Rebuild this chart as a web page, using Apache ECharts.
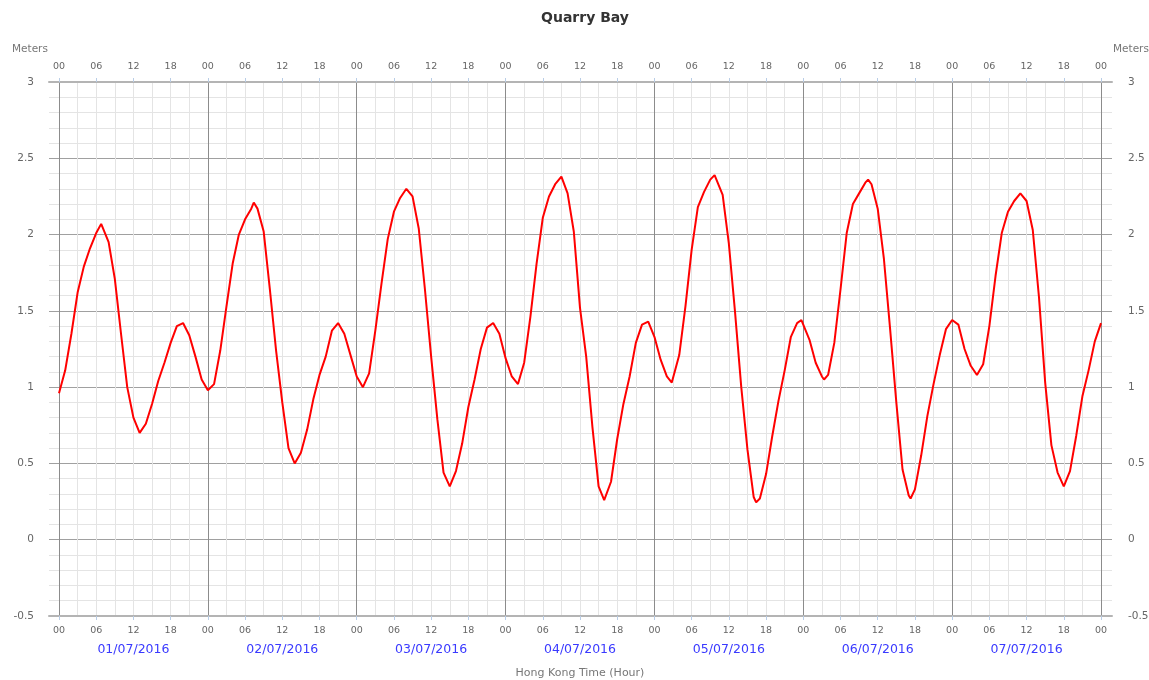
<!DOCTYPE html>
<html><head><meta charset="utf-8">
<script src="https://cdn.jsdelivr.net/npm/echarts@6/dist/echarts.min.js"></script>
<style>html,body{margin:0;padding:0;background:#fff}#c{width:1149px;height:680px}</style>
</head><body><div id="c"></div><script>
// Hourly predicted tide heights (m), hour 0 = 00:00 01/07/2016
const hourlyHeights = [
0.96,1.11,1.35,1.62,1.79,1.91,2.01,2.05,1.95,1.71,
1.35,1.00,0.80,0.70,0.76,0.89,1.04,1.16,1.29,1.40,
1.42,1.34,1.20,1.05,0.98,1.02,1.24,1.53,1.81,2.00,
2.10,2.17,2.17,2.02,1.64,1.24,0.90,0.60,0.50,0.57,
0.72,0.92,1.08,1.20,1.37,1.42,1.35,1.21,1.07,1.00,
1.09,1.37,1.68,1.97,2.15,2.24,2.30,2.25,2.04,1.64,
1.20,0.79,0.44,0.35,0.45,0.63,0.87,1.05,1.25,1.39,
1.42,1.35,1.19,1.07,1.02,1.16,1.46,1.81,2.11,2.25,
2.33,2.38,2.27,2.02,1.52,1.20,0.74,0.35,0.27,0.38,
0.66,0.89,1.07,1.29,1.41,1.43,1.33,1.18,1.07,1.04,
1.21,1.53,1.90,2.18,2.28,2.36,2.38,2.26,1.94,1.49,
1.00,0.59,0.28,0.27,0.43,0.68,0.91,1.11,1.33,1.42,
1.43,1.31,1.16,1.07,1.08,1.29,1.64,2.01,2.20,2.27,
2.34,2.33,2.17,1.84,1.38,0.90,0.46,0.29,0.33,0.55,
0.81,1.02,1.21,1.38,1.44,1.41,1.25,1.14,1.08,1.15,
1.40,1.73,2.01,2.15,2.22,2.27,2.22,2.03,1.59,1.03,
0.62,0.44,0.35,0.45,0.68,0.94,1.11,1.30,1.42];
// High / low water times (hours from start) and heights (m)
const extremeHours   = [6.8, 31.4, 87.9, 98.8, 105.7, 112.4, 119.7, 123.35, 130.45, 137.3, 144.3, 148.2];
const extremeHeights = [2.07, 2.21, 0.26, 1.03, 2.39, 0.245, 1.44, 1.05, 2.36, 0.27, 1.45, 1.07];
const dateLabels = ['01/07/2016','02/07/2016','03/07/2016','04/07/2016','05/07/2016','06/07/2016','07/07/2016'];
const hourLabels = ['00','06','12','18'];

const points = hourlyHeights.map((v,i)=>[i,v]);
extremeHours.forEach((h,i)=>points.push([h, extremeHeights[i]]));
points.sort((a,b)=>a[0]-b[0]);

const FONT = 'DejaVu Sans';
const hourFmt = v => hourLabels[Math.round(v % 24) / 6];
const chart = echarts.init(document.getElementById('c'));
chart.setOption({
  animation:false,
  textStyle:{fontFamily:FONT},
  title:{text:'Quarry Bay', left:580, textAlign:'center', top:6,
    textStyle:{fontFamily:FONT, fontSize:14, fontWeight:'bold', color:'#333'}},
  graphic:[
    {type:'text', left:12, top:44, style:{text:'Meters', fill:'#777', fontSize:10.5, fontFamily:FONT}},
    {type:'text', left:1113, top:44, style:{text:'Meters', fill:'#777', fontSize:10.5, fontFamily:FONT}}
  ],
  grid:[
    {left:59, right:48, top:82, bottom:64, containLabel:false, outerBoundsMode:'none'},
    {left:49, right:37, top:82, bottom:64, containLabel:false, outerBoundsMode:'none'}
  ],
  xAxis:[
    {gridIndex:0, type:'value', min:0, max:168, interval:24, position:'bottom',
      axisLine:{show:false, onZero:false}, axisTick:{show:false}, axisLabel:{show:false},
      splitLine:{show:true, lineStyle:{color:'#8c8c8c', width:1}},
      minorTick:{show:false, splitNumber:8},
      minorSplitLine:{show:true, lineStyle:{color:'#e4e4e4', width:1}}},
    {gridIndex:0, type:'value', min:0, max:168, interval:6, position:'bottom',
      axisLine:{show:false, onZero:false}, splitLine:{show:false},
      axisTick:{show:true, length:4, lineStyle:{color:'#b9cde6'}},
      axisLabel:{margin:10, color:'#666', fontSize:9.5, fontFamily:FONT, formatter:hourFmt}},
    {gridIndex:0, type:'value', min:0, max:168, interval:6, position:'top',
      axisLine:{show:false, onZero:false}, splitLine:{show:false},
      axisTick:{show:true, length:4, lineStyle:{color:'#b9cde6'}},
      axisLabel:{margin:10, color:'#666', fontSize:9.5, fontFamily:FONT, formatter:hourFmt}},
    {gridIndex:0, type:'value', min:0, max:168, position:'bottom',
      axisLine:{show:false, onZero:false}, splitLine:{show:false}, axisTick:{show:false},
      axisLabel:{margin:27, color:'#3a3aff', fontSize:12.5, fontFamily:FONT,
        customValues:[12,36,60,84,108,132,156],
        formatter: v => dateLabels[Math.floor(v/24)]},
      name:'Hong Kong Time (Hour)', nameLocation:'middle', nameGap:52,
      nameTextStyle:{color:'#777', fontSize:11, fontFamily:FONT}},
    {gridIndex:1, type:'value', min:0, max:1, position:'bottom',
      axisLine:{show:true, onZero:false, lineStyle:{color:'#b4b4b4', width:2}},
      axisTick:{show:false}, axisLabel:{show:false}, splitLine:{show:false}},
    {gridIndex:1, type:'value', min:0, max:1, position:'top',
      axisLine:{show:true, onZero:false, lineStyle:{color:'#b4b4b4', width:2}},
      axisTick:{show:false}, axisLabel:{show:false}, splitLine:{show:false}}
  ],
  yAxis:[
    {gridIndex:0, type:'value', min:-0.5, max:3, show:false, splitLine:{show:false}},
    {gridIndex:1, type:'value', min:-0.5, max:3, interval:0.5, position:'left',
      axisLine:{show:false, onZero:false}, axisTick:{show:false},
      axisLabel:{margin:15, color:'#666', fontSize:10.5, fontFamily:FONT},
      splitLine:{show:true, lineStyle:{color:'#a0a0a0', width:1}},
      minorTick:{show:false, splitNumber:5},
      minorSplitLine:{show:true, lineStyle:{color:'#e4e4e4', width:1}}},
    {gridIndex:1, type:'value', min:-0.5, max:3, interval:0.5, position:'right',
      axisLine:{show:false, onZero:false}, axisTick:{show:false}, splitLine:{show:false},
      axisLabel:{margin:16, color:'#666', fontSize:10.5, fontFamily:FONT}}
  ],
  series:[{
    type:'line', xAxisIndex:0, yAxisIndex:0, data:points,
    showSymbol:false, smooth:false, z:5,
    lineStyle:{color:'#ff0000', width:2}
  }]
});
</script></body></html>
